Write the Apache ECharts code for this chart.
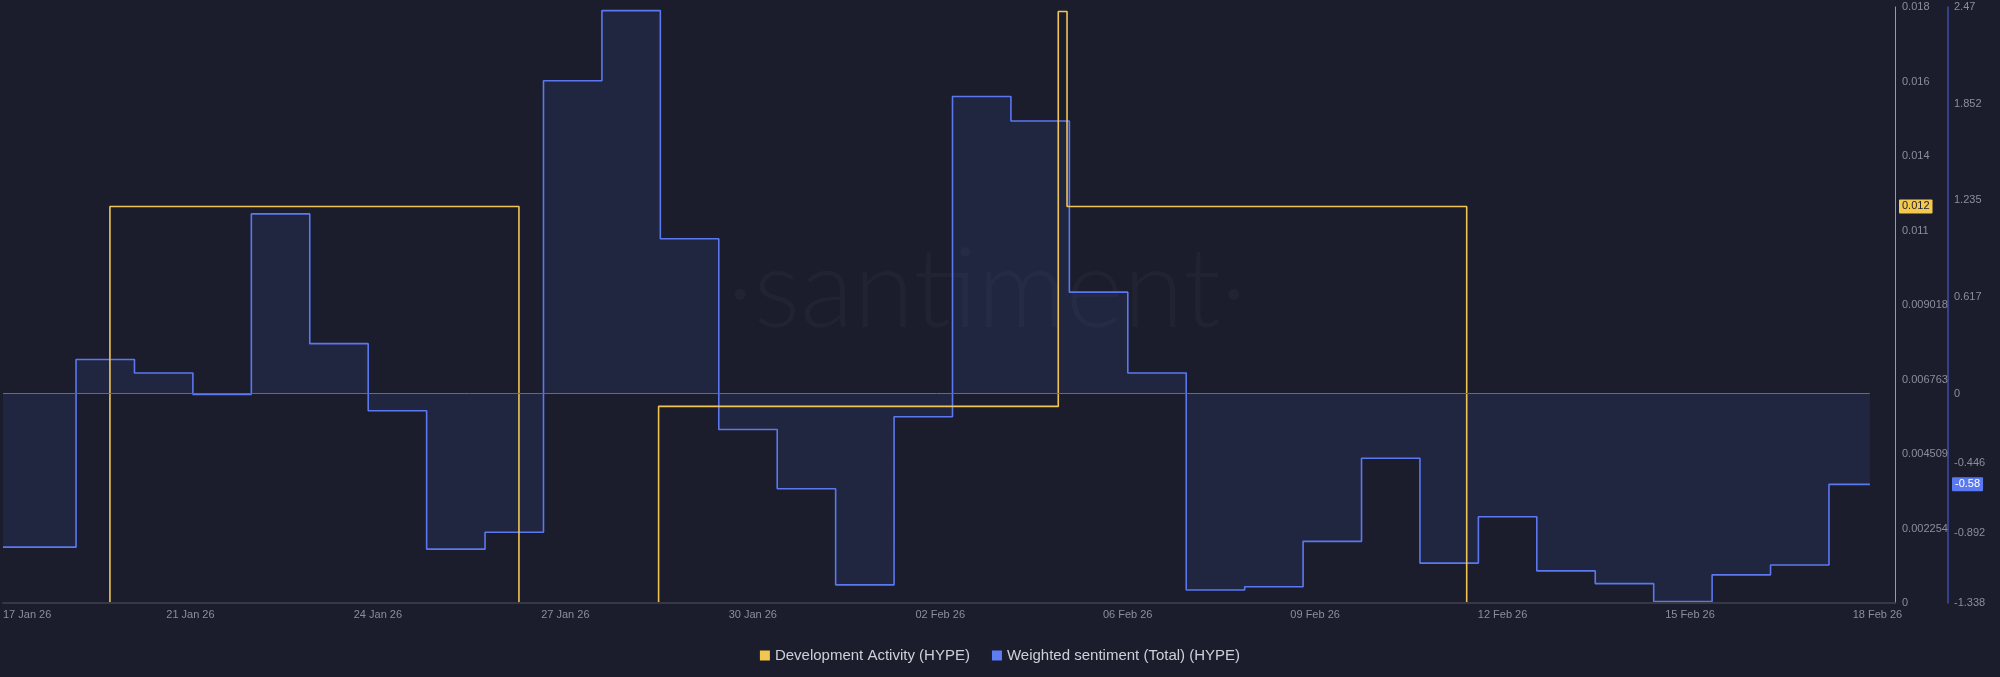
<!DOCTYPE html>
<html>
<head>
<meta charset="utf-8">
<script src="https://cdn.jsdelivr.net/npm/echarts@6/dist/echarts.min.js"></script>
<style>
  html, body { margin: 0; padding: 0; background: #1b1d2c; }
  #chart { width: 2000px; height: 677px; }
</style>
</head>
<body>
<div id="chart"></div>
<script>
// X positions are days after 17 Jan 26 00:00
const xTickLabels = ['17 Jan 26', '21 Jan 26', '24 Jan 26', '27 Jan 26', '30 Jan 26', '02 Feb 26', '06 Feb 26', '09 Feb 26', '12 Feb 26', '15 Feb 26', '18 Feb 26'];
const devTickLabels = ['0', '0.002254', '0.004509', '0.006763', '0.009018', '0.011', '0.014', '0.016', '0.018'];
const sentimentTicks = [-1.338, -0.892, -0.446, 0, 0.617, 1.235, 1.852, 2.47];

// Development Activity (HYPE): value starting at each time
const devDays   = [0, 1.83, 8.83, 11.22, 18.06, 18.21, 25.05, 31.95];
const devValues = [0, 0.012, 0, 0.00595, 0.0179, 0.012, 0, 0];

// Weighted sentiment (Total) (HYPE): value starting at each time
const sentimentDays = [0, 1.25, 2.25, 3.25, 4.25, 5.25, 6.25, 7.25, 8.25, 9.25, 10.25, 11.25, 12.25, 13.25, 14.25, 15.25,
  16.25, 17.25, 18.25, 19.25, 20.25, 21.25, 22.25, 23.25, 24.25, 25.25, 26.25, 27.25, 28.25, 29.25, 30.25, 31.25];
const sentimentValues = [-0.981, 0.218, 0.132, -0.005, 1.148, 0.319, -0.110, -0.994, -0.886, 1.999, 2.447, 0.989,
  -0.229, -0.608, -1.222, -0.148, 1.898, 1.742, 0.648, 0.132, -1.255, -1.234, -0.944, -0.413, -1.083, -0.787,
  -1.133, -1.214, -1.328, -1.158, -1.095, -0.58];
const lastDay = 31.95;

const devHighlight = 0.012;
const sentimentHighlight = -0.58;

const xMax = 32.38;
const xInterval = 3.208;
const devInterval = 0.0022545;
const devMax = 0.018036;

const devData = devDays.map((d, i) => [d, devValues[i]]);
const sentData = sentimentDays.map((d, i) => [d, sentimentValues[i]]);
sentData.push([lastDay, sentimentValues[sentimentValues.length - 1]]);

const FONT = 'Liberation Sans';
const chart = echarts.init(document.getElementById('chart'), null, { renderer: 'canvas' });

function tagLine(value, distance, bg, fg) {
  return [
    {
      coord: [lastDay, value],
      lineStyle: { color: 'rgba(0,0,0,0)', width: 0 },
      label: {
        show: true,
        position: 'end',
        distance: distance,
        formatter: String(value),
        color: fg,
        backgroundColor: bg,
        padding: [2, 3, 1, 3],
        borderRadius: 1,
        fontSize: 11,
        fontFamily: FONT
      }
    },
    { coord: [xMax, value] }
  ];
}

chart.setOption({
  backgroundColor: '#1b1d2c',
  animation: false,
  textStyle: { fontFamily: FONT },
  graphic: [{
    type: 'text',
    x: 987, y: 292,
    z: -10,
    silent: true,
    style: {
      text: '·santiment·',
      font: '300 110px Lato',
      fill: 'rgba(255,255,255,0.028)',
      align: 'center',
      verticalAlign: 'middle'
    }
  }],
  grid: { left: 0, right: 105, top: 7, bottom: 74, containLabel: false },
  legend: {
    left: 'center',
    top: 643,
    icon: 'rect',
    itemWidth: 10,
    itemHeight: 10,
    itemGap: 22,
    textStyle: { color: '#cdd0d8', fontSize: 15, fontFamily: FONT },
    data: [
      { name: 'Development Activity (HYPE)', itemStyle: { color: '#f3c64f' } },
      { name: 'Weighted sentiment (Total) (HYPE)', itemStyle: { color: '#5f7cf4' } }
    ]
  },
  xAxis: {
    type: 'value',
    min: 0,
    max: xMax,
    interval: xInterval,
    z: 10,
    axisLine: { show: true, onZero: false, lineStyle: { color: '#363944', width: 2 } },
    axisTick: { show: false },
    splitLine: { show: false },
    axisLabel: {
      color: '#8b8e99',
      fontSize: 11,
      fontFamily: FONT,
      margin: 6,
      showMinLabel: true,
      showMaxLabel: false,
      alignMinLabel: 'left',
      formatter: v => xTickLabels[Math.round(v / xInterval)] || ''
    }
  },
  yAxis: [{
    type: 'value',
    position: 'right',
    min: 0,
    max: devMax,
    interval: devInterval,
    axisLine: { show: true, onZero: false, lineStyle: { color: '#a39c74', width: 1 } },
    axisTick: { show: false },
    splitLine: { show: false },
    axisLabel: {
      color: '#8b8e99',
      fontSize: 11,
      fontFamily: FONT,
      margin: 7,
      formatter: v => devTickLabels[Math.round(v / devInterval)] || ''
    }
  }, {
    type: 'value',
    position: 'right',
    offset: 53,
    min: sentimentTicks[0],
    max: sentimentTicks[sentimentTicks.length - 1],
    axisLine: { show: true, onZero: false, lineStyle: { color: '#3e4ca6', width: 1.5 } },
    axisTick: { show: false, customValues: sentimentTicks },
    splitLine: { show: false },
    axisLabel: {
      color: '#8b8e99',
      fontSize: 11,
      fontFamily: FONT,
      margin: 6,
      customValues: sentimentTicks,
      formatter: v => String(v)
    }
  }],
  series: [{
    name: 'Weighted sentiment (Total) (HYPE)',
    type: 'line',
    step: 'end',
    yAxisIndex: 1,
    data: sentData,
    showSymbol: false,
    symbol: 'none',
    color: '#5f7cf4',
    lineStyle: { color: '#5b78f0', width: 1.6 },
    areaStyle: { color: 'rgba(78,110,225,0.17)' },
    z: 2,
    markLine: {
      silent: true,
      symbol: 'none',
      animation: false,
      data: [
        [
          { coord: [sentimentDays[0], 0], lineStyle: { color: '#4d66d4', width: 1, type: 'solid' }, label: { show: false } },
          { coord: [lastDay, 0] }
        ],
        tagLine(sentimentHighlight, 57, '#5a78f2', '#ffffff')
      ]
    }
  }, {
    name: 'Development Activity (HYPE)',
    type: 'line',
    step: 'end',
    yAxisIndex: 0,
    data: devData,
    showSymbol: false,
    symbol: 'none',
    color: '#f3c64f',
    lineStyle: { color: '#f0c556', width: 1.6 },
    z: 3,
    markLine: {
      silent: true,
      symbol: 'none',
      animation: false,
      data: [tagLine(devHighlight, 4, '#f3c84f', '#1b1d2c')]
    }
  }]
});
</script>
</body>
</html>
